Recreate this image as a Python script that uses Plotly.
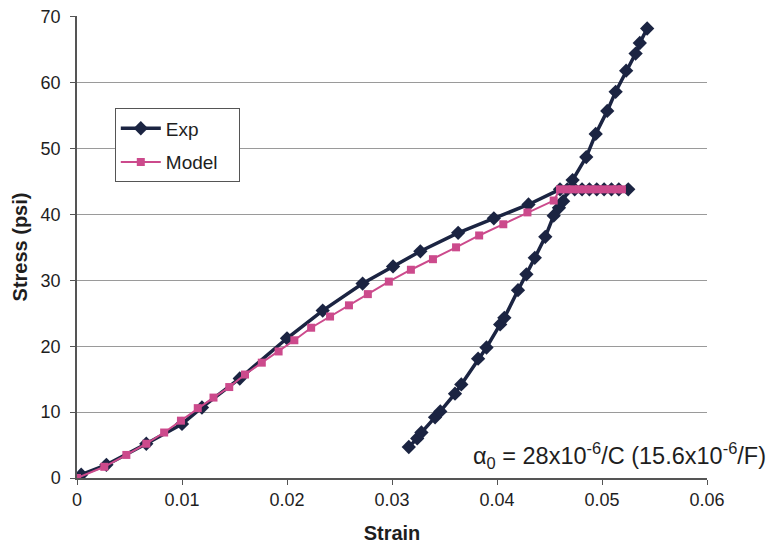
import plotly.graph_objects as go

# Exp: loading curve + plateau, then (after a gap) the steep branch
exp_strain = [0.0004, 0.0028, 0.0066, 0.0100, 0.0119, 0.0155, 0.0200, 0.0234, 0.0272,
              0.0301, 0.0327, 0.0363, 0.0397, 0.0430,
              0.0460, 0.0467, 0.0474, 0.0481, 0.0488, 0.0495, 0.0502, 0.0509, 0.0516, 0.0525,
              None,
              0.0316, 0.0324, 0.0328, 0.0341, 0.0346, 0.0360, 0.0366, 0.0382, 0.0390,
              0.0403, 0.0407, 0.0420, 0.0428, 0.0436, 0.0446, 0.0454, 0.0459, 0.0463,
              0.0472, 0.0485, 0.0494, 0.0505, 0.0513, 0.0523, 0.0532, 0.0536, 0.0543]
exp_stress = [0.5, 2.0, 5.2, 8.2, 10.7, 15.1, 21.2, 25.4, 29.5,
              32.1, 34.4, 37.2, 39.4, 41.5,
              43.8, 43.8, 43.8, 43.8, 43.8, 43.8, 43.8, 43.8, 43.8, 43.8,
              None,
              4.7, 6.0, 6.9, 9.2, 10.1, 12.8, 14.2, 18.1, 19.8,
              23.3, 24.3, 28.5, 30.9, 33.4, 36.6, 39.8, 41.0, 42.0,
              45.2, 48.7, 52.2, 55.7, 58.6, 61.8, 64.4, 66.0, 68.2]

model_strain = [0.0, 0.0026, 0.0047, 0.0066, 0.0083, 0.0099, 0.0115, 0.0130, 0.0145,
                0.0160, 0.0176, 0.0192, 0.0207, 0.0223, 0.0241, 0.0259, 0.0277, 0.0297,
                0.0318, 0.0339, 0.0361, 0.0383, 0.0406, 0.0429, 0.0454,
                0.0460, 0.0466, 0.0472, 0.0478, 0.0484, 0.0490, 0.0496, 0.0502, 0.0508,
                0.0514, 0.0519]
model_stress = [0.0, 1.7, 3.5, 5.2, 6.9, 8.7, 10.6, 12.2, 13.8,
                15.7, 17.5, 19.2, 20.9, 22.8, 24.5, 26.2, 27.9, 29.8,
                31.6, 33.2, 35.0, 36.8, 38.5, 40.3, 42.1,
                43.8, 43.8, 43.8, 43.8, 43.8, 43.8, 43.8, 43.8, 43.8,
                43.8, 43.8]

x_ticks = [0, 0.01, 0.02, 0.03, 0.04, 0.05, 0.06]
x_tick_labels = ["0", "0.01", "0.02", "0.03", "0.04", "0.05", "0.06"]
y_ticks = [0, 10, 20, 30, 40, 50, 60, 70]

EXP_COLOR = "#1b2442"
MODEL_COLOR = "#cc4a8c"
FONT = "Liberation Sans, Arial, sans-serif"
TXT = "#1e1e1e"

fig = go.Figure()
fig.add_trace(go.Scatter(
    x=exp_strain, y=exp_stress, name="Exp&nbsp;", mode="lines+markers",
    legendgroup="exp",
    line=dict(color=EXP_COLOR, width=3.5),
    marker=dict(symbol="diamond", size=11, color=EXP_COLOR),
    connectgaps=False,
))
fig.add_trace(go.Scatter(
    x=model_strain, y=model_stress, name="Model&nbsp;&nbsp;&nbsp;", mode="lines+markers",
    legendgroup="model",
    line=dict(color=MODEL_COLOR, width=2),
    marker=dict(symbol="square", size=8, color=MODEL_COLOR),
))

fig.add_annotation(
    x=0.0375, y=3.4, xref="x", yref="y", xanchor="left", yanchor="middle",
    text="α<sub>0</sub> = 28x10<sup>-6</sup>/C (15.6x10<sup>-6</sup>/F)",
    showarrow=False, font=dict(family=FONT, size=23.5, color=TXT),
)

fig.update_layout(
    width=777, height=549,
    margin=dict(l=77, r=70, t=16, b=71),
    paper_bgcolor="white", plot_bgcolor="white",
    font=dict(family=FONT, size=18, color=TXT),
    showlegend=True,
    legend=dict(
        x=0.06, y=0.80, xanchor="left", yanchor="top",
        bgcolor="white", bordercolor="#555555", borderwidth=1,
        font=dict(family=FONT, size=19, color=TXT),
        itemwidth=40, tracegroupgap=6, traceorder="grouped",
    ),
    xaxis=dict(
        range=[0, 0.06], tickvals=x_ticks, ticktext=x_tick_labels,
        showgrid=False, zeroline=False, showline=True, linecolor="#555555", linewidth=1.5,
        ticks="outside", ticklen=5, tickcolor="#555555", automargin=False,
        tickfont=dict(family=FONT, size=18, color=TXT),
        title=dict(text="<b>Strain</b>", font=dict(family=FONT, size=20, color=TXT), standoff=17),
    ),
    yaxis=dict(
        range=[0, 70.1], tickvals=y_ticks,
        showgrid=True, gridcolor="#9a9a9a", gridwidth=1,
        zeroline=False, showline=True, linecolor="#555555", linewidth=1.5,
        ticks="outside", ticklen=5, tickcolor="#555555", automargin=False,
        ticklabelstandoff=6, ticklabeloverflow="allow",
        tickfont=dict(family=FONT, size=18, color=TXT),
        title=dict(text="<b>Stress (psi)</b>", font=dict(family=FONT, size=20, color=TXT), standoff=8),
    ),
)

# remove the default 8px page margin so the figure fills the window exactly
fig.write_html("out.html", config={"displayModeBar": False},
               post_script="document.body.style.margin='0';")
